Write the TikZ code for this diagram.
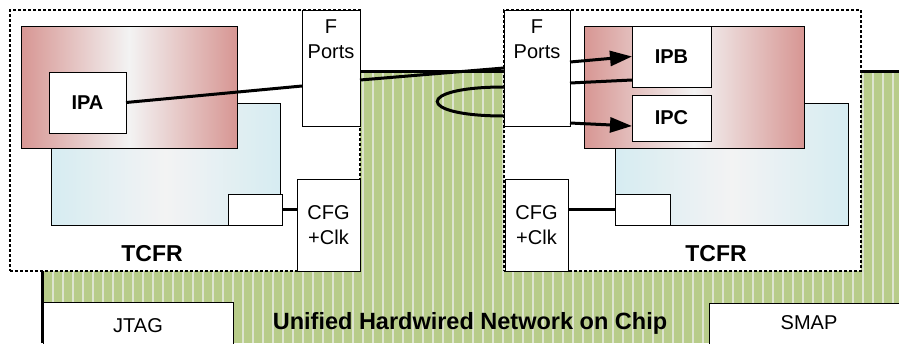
\documentclass[tikz,border=0pt]{standalone}
\usepackage{fontspec}
\setmainfont{Liberation Sans}
\usepackage{tikz}
\usetikzlibrary{arrows.meta}

\definecolor{nocgreen}{RGB}{184,204,138}
\definecolor{nocstripe}{RGB}{222,228,208}
\definecolor{rededge}{RGB}{215,150,147}
\definecolor{blueedge}{RGB}{214,236,242}
\definecolor{midgray}{RGB}{243,243,243}

\begin{document}
\begin{tikzpicture}[
            x=1pt, y=-1pt,
            font=\fontsize{20}{25}\selectfont,
            box/.style={draw, fill=white, line width=1pt, inner sep=0pt, outer sep=0pt,
                anchor=north west, align=center},
            tcfr/.style={box, line width=1.5pt, dash pattern=on 3pt off 2pt},
            ipbox/.style={box, font=\fontsize{20}{25}\selectfont\bfseries},
            redbox/.style={box, left color=rededge, right color=rededge, middle color=midgray},
            bluebox/.style={box, left color=blueedge, right color=blueedge, middle color=midgray},
            portbox/.style={box, label={[anchor=north, align=center, inner sep=0pt, yshift=-10pt]north:F\\Ports}},
            wire/.style={line width=3pt},
            arrow/.style={wire, -{Triangle[length=22pt, width=15pt]}},
            tcfrtext/.style={font=\fontsize{23}{28}\selectfont\bfseries}
        ]
            \useasboundingbox (0,0) rectangle (899,343);

            \fill[nocgreen] (42,71) rectangle (899,343);
            \foreach \x in {43,53,...,893}
                \draw[nocstripe, line width=1.2pt] (\x,71) -- (\x,343);

            \node[box, minimum width=190pt, minimum height=47pt] (jtag) at (43,302) {JTAG};
            \node[box, minimum width=200pt, minimum height=46pt, text depth=6pt] (smap) at (709,303) {SMAP};
            \node[font=\fontsize{23.5}{28}\selectfont\bfseries] (noc) at (470,323) {Unified Hardwired Network on Chip};
            \draw[line width=3pt] (42,343) -- (42,71.5) -- (899,71.5);

            \node[tcfr, minimum width=350pt, minimum height=261pt] (tcfrL) at (10,10) {};
            \node[bluebox, minimum width=229pt, minimum height=122pt] (blueL) at (51,103) {};
            \node[redbox, minimum width=216pt, minimum height=122pt] (redL) at (21,26) {};
            \node[box, minimum width=54pt, minimum height=31pt] (smL) at (228,194) {};
            \node[ipbox, minimum width=77pt, minimum height=61pt] (ipa) at (49,72) {IPA};
            \node[portbox, minimum width=58pt, minimum height=116pt] (fpL) at (302,10) {};
            \node[box, minimum width=63pt, minimum height=92pt] (cfgL) at (297,179) {CFG\\+Clk};
            \node[tcfrtext] (tcfrLtext) at (152,254) {TCFR};

            \node[tcfr, minimum width=357pt, minimum height=261pt] (tcfrR) at (504,10) {};
            \node[bluebox, minimum width=233pt, minimum height=122pt] (blueR) at (615,103) {};
            \node[redbox, minimum width=220pt, minimum height=122pt] (redR) at (584,26) {};
            \node[box, minimum width=55pt, minimum height=31pt] (smR) at (615,194) {};
            \node[ipbox, minimum width=79pt, minimum height=61pt] (ipb) at (632,26) {IPB};
            \node[ipbox, minimum width=79pt, minimum height=46pt] (ipc) at (632,95) {IPC};
            \node[portbox, minimum width=66pt, minimum height=116pt] (fpR) at (504,10) {};
            \node[box, minimum width=63pt, minimum height=92pt] (cfgR) at (505,179) {CFG\\+Clk};
            \node[tcfrtext] (tcfrRtext) at (716,254) {TCFR};

            \draw[wire] (ipa.east) -- ([yshift=-18pt]fpL.west);
            \draw[wire] ([yshift=-12pt]fpL.east) -- (fpR.west);
            \draw[wire] ([yshift=-19pt]fpR.west) .. controls +(-89,0) and +(-89,0) .. ([yshift=-48pt]fpR.west);
            \draw[arrow] ([yshift=6pt]fpR.east) -- (ipb.west);
            \draw[wire] ([yshift=-15pt]fpR.east) -- ([yshift=7pt]ipb.south west);
            \draw[arrow] ([yshift=3pt]fpR.south east) -- ([yshift=-8pt]ipc.west);
            \draw[wire] (smL.east) -- (smL.east -| cfgL.west);
            \draw[wire] (cfgR.east |- smR.west) -- (smR.west);
        \end{tikzpicture}
\end{document}
